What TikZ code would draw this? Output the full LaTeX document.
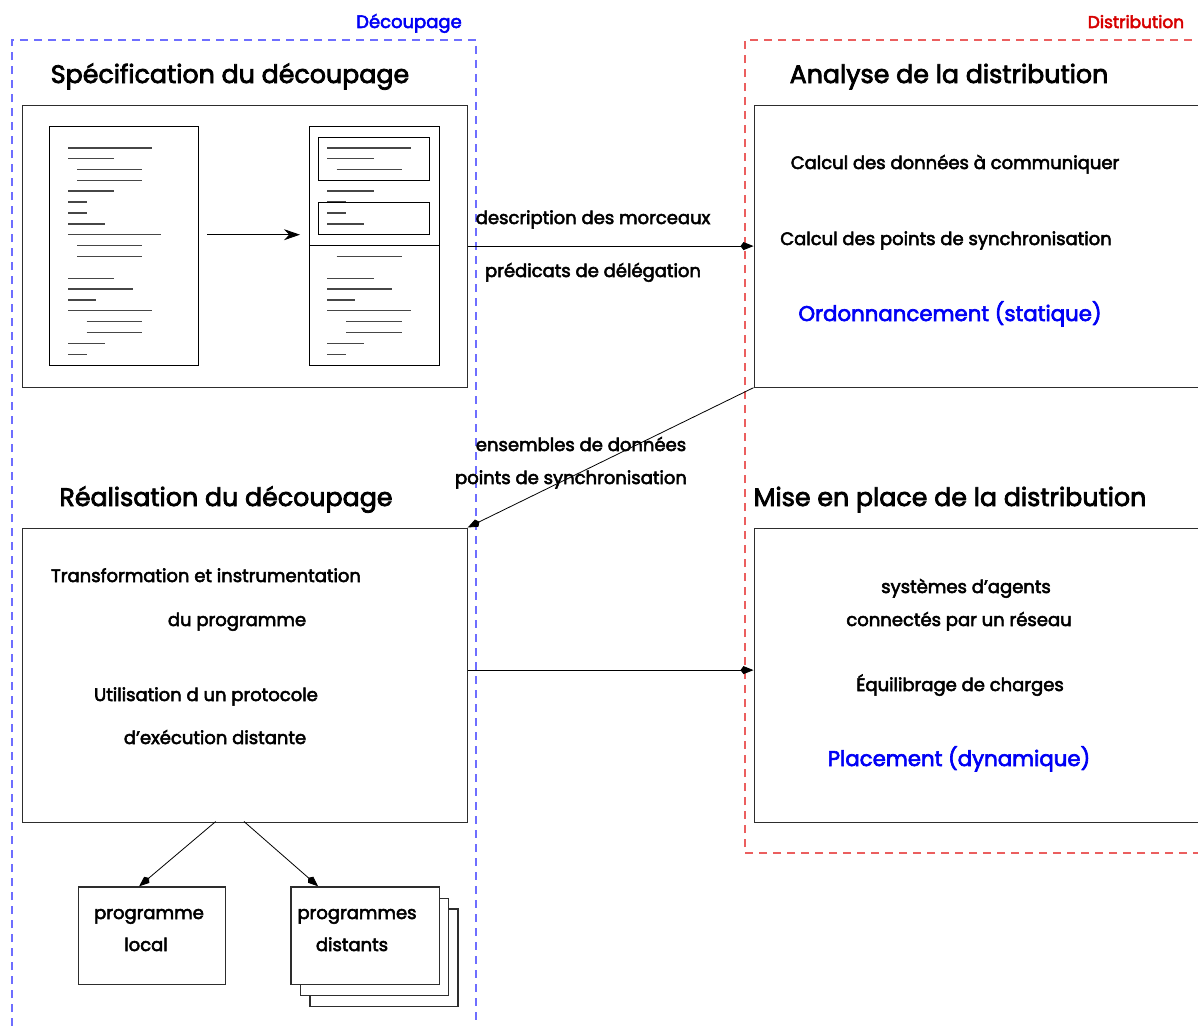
\documentclass[tikz,border=0pt]{standalone}
\usepackage{fontspec}
\setmainfont{Poppins}[FakeBold=3]
\usetikzlibrary{arrows.meta}
\definecolor{zoneblue}{RGB}{110,110,255}
\definecolor{zonered}{RGB}{235,95,95}
\definecolor{txtblue}{RGB}{0,0,245}
\definecolor{txtred}{RGB}{215,0,0}
\definecolor{framegray}{RGB}{45,45,45}
\definecolor{linegray}{RGB}{70,70,70}

% text lines of a source listing, relative to the page's top left corner
\newcommand\listing[2]{%
  \foreach \yy/\xa/\xb in {22/19/102.7, 32.7/19/65.3, 43.7/28.3/93.3, 54.3/28.3/93.3,
      65/19/65.3, 76/19/37.7, 87/19/37.7, 98/19/56, 108.7/19/111.7,
      119.7/28.3/93.3, 130.3/28.3/93.3, 152.3/19/65.3, 163/19/84, 174/19/47,
      184.7/19/102.7, 195.7/37.7/93.3, 206.3/37.7/93.3, 217.3/19/56, 228.3/19/37.7}
    \draw[srcline] (#1+\xa,#2+\yy) -- (#1+\xb,#2+\yy);%
}

\begin{document}
\begin{tikzpicture}[x=1pt,y=-1pt,
  zone/.style={line width=1.2pt, dash pattern=on 8pt off 6pt},
  box/.style={draw=framegray, line width=1.2pt, anchor=north west, inner sep=0pt, fill=white},
  page/.style={draw=black, line width=1pt, anchor=north west, inner sep=0pt},
  srcline/.style={draw=linegray, line width=1.1pt},
  conn/.style={draw=black, line width=0.8pt, -{Kite[length=13pt,width=8pt,inset=3pt]}},
  title/.style={anchor=base, inner sep=0pt, font=\fontsize{25.3}{28}\selectfont},
  txt/.style={anchor=base, inner sep=0pt, font=\fontsize{18}{21}\selectfont},
  hilite/.style={anchor=base, inner sep=0pt, text=txtblue, font=\fontsize{21.3}{24}\selectfont},
]
\useasboundingbox[fill=white] (0,0) rectangle (1198,1025);

% the two working areas
\draw[zone, draw=zoneblue] (12,1040) -- (12,40) -- (476,40) -- (476,1040);
\draw[zone, draw=zonered] (1215,853) -- (745,853) -- (745,40) -- (1215,40);
\node[anchor=base, inner sep=0pt, text=txtblue, font=\fontsize{18}{20}\selectfont] (zoneA) at (409,28) {Découpage};
\node[anchor=base, inner sep=0pt, text=txtred, font=\fontsize{17}{20}\selectfont] (zoneB) at (1136,28) {Distribution};

% main boxes
\node[box, minimum width=444.5pt, minimum height=282pt] (spec) at (22,104.5) {};
\node[box, minimum width=480pt, minimum height=282pt] (ana) at (753.5,104.5) {};
\node[box, minimum width=444.5pt, minimum height=294pt] (real) at (22,527.5) {};
\node[box, minimum width=480pt, minimum height=294pt] (mise) at (753.5,527.5) {};

% source before and after cutting
\node[page, minimum width=149pt, minimum height=239pt] (srcA) at (49,126) {};
\node[page, minimum width=130pt, minimum height=239pt] (srcB) at (309,126) {};
\listing{49}{126}
\listing{308.3}{126}
\draw[draw=black, line width=1pt] (318.3,137.3) rectangle (429.3,180.3);
\draw[draw=black, line width=1pt] (318.3,202) rectangle (429.3,234.7);
\draw[draw=black, line width=1.3pt] (srcB.west |- 0,245.7) -- (srcB.east |- 0,245.7);
\coordinate (cutA) at (207.3,234.7);
\coordinate (cutB) at (300,234.7);
\draw[line width=0.9pt, -{Stealth[length=16pt,width=11pt]}] (cutA) -- (cutB);

% produced programs
\node[box, minimum width=148pt, minimum height=97.5pt] (dist3) at (309.3,908.3) {};
\node[box, minimum width=148pt, minimum height=97.5pt] (dist2) at (300,897.7) {};
\node[box, minimum width=148.5pt, minimum height=97.5pt] (dist) at (290.3,886.3) {};
\node[box, minimum width=147pt, minimum height=97.5pt] (loc) at (78,886.3) {};

% connectors
\draw[conn] (spec.east) -- (ana.west);
\draw[conn] (ana.south west) -- (real.north east);
\draw[conn] ([yshift=5pt]real.east) -- ([yshift=5pt]mise.west);
\coordinate (realL) at (215.7,821.5);
\coordinate (realR) at (244,821.5);
\draw[conn] (realL) -- ([xshift=-13pt]loc.north);
\draw[conn] (realR) -- ([xshift=-47pt]dist.north);

% titles
\node[title] (tSpec) at (230,83) {Spécification du découpage};
\node[title] (tAna) at (949,83) {Analyse de la distribution};
\node[title] (tReal) at (226,506) {Réalisation du découpage};
\node[title] (tMise) at (950,506) {Mise en place de la distribution};

% connector labels
\node[txt] (l1) at (593,224) {description des morceaux};
\node[txt] (l2) at (593,277) {prédicats de délégation};
\node[txt] (l3) at (581,451) {ensembles de données};
\node[txt] (l4) at (571,484) {points de synchronisation};

% analysis box contents
\node[txt] (a1) at (955,169) {Calcul des données à communiquer};
\node[txt] (a2) at (946,245) {Calcul des points de synchronisation};
\node[hilite] (a3) at (950,321) {Ordonnancement (statique)};

% realisation box contents
\node[txt] (r1) at (206,582) {Transformation et instrumentation};
\node[txt] (r2) at (237,626) {du programme};
\node[txt] (r3) at (206,701) {Utilisation d un protocole};
\node[txt] (r4) at (215,744) {d’exécution distante};

% deployment box contents
\node[txt] (m1) at (966,593) {systèmes d’agents};
\node[txt] (m2) at (959,626) {connectés par un réseau};
\node[txt] (m3) at (960,691) {Équilibrage de charges};
\node[hilite] (m4) at (959,766) {Placement (dynamique)};

% program boxes
\node[txt] (p1) at (149,919) {programme};
\node[txt] (p2) at (146,951) {local};
\node[txt] (p3) at (357,919) {programmes};
\node[txt] (p4) at (352,951) {distants};
\end{tikzpicture}
\end{document}
